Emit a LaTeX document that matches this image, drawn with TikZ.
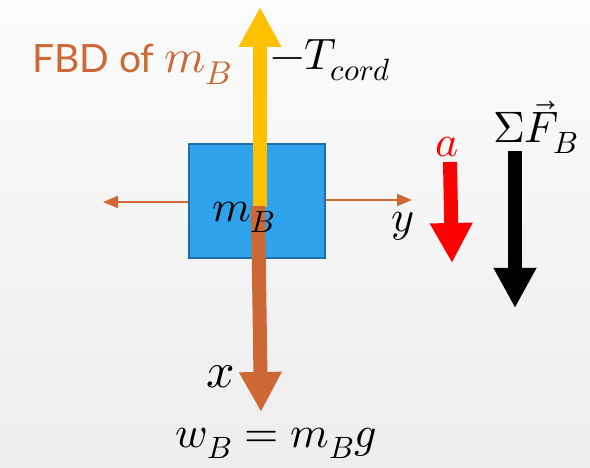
\documentclass[tikz,border=0pt]{standalone}
\usepackage{fontspec}
\usepackage{unicode-math}
\setmathfont{Latin Modern Math}
\newfontfamily\fbdfont{Lato}
\usetikzlibrary{arrows.meta}
\definecolor{fbdbrown}{RGB}{205,103,52}
\definecolor{boxblue}{RGB}{46,162,235}
\definecolor{boxedge}{RGB}{30,110,170}
\definecolor{tyellow}{RGB}{255,192,0}
\tikzset{
  bigarrow/.style={line width=14pt, -{Triangle[width=40pt,length=40pt]}},
  thinarrow/.style={line width=2pt, fbdbrown, -{Triangle[width=12pt,length=15pt]}},
  lbl/.style={inner sep=0pt, font=\fontsize{44}{50}\selectfont},
}
\begin{document}
\begin{tikzpicture}[x=1pt,y=1pt]
\shade[top color=gray!3, bottom color=gray!14] (0,0) rectangle (590,468);
\useasboundingbox (0,0) rectangle (590,468);
% block
\node[draw=boxedge, line width=2pt, fill=boxblue, minimum width=136pt, minimum height=114pt, inner sep=0pt] (box) at (257,267) {};
% axes
\coordinate (yl) at (103,266);
\coordinate (yr) at (412,268);
\draw[thinarrow] (box.west |- yl) -- (yl);
\draw[thinarrow] (box.east |- yr) -- (yr);
% tension
\coordinate (ts) at (260,261);
\coordinate (te) at (260,461);
\draw[bigarrow, tyellow] (ts) -- (te);
% weight
\coordinate (ws) at (258,262);
\coordinate (we) at (261,56);
\draw[bigarrow, fbdbrown] (ws) -- (we);
% acceleration
\coordinate (as) at (450,306);
\coordinate (ae) at (452,205);
\draw[bigarrow, red] (as) -- (ae);
% net force
\coordinate (fs) at (515,317);
\coordinate (fe) at (515,160);
\draw[bigarrow, black] (fs) -- (fe);
% text in block
\node[lbl, anchor=base west] (mb) at (212,246) {$m_B$};
% labels
\node[inner sep=0pt, anchor=base west, text=fbdbrown, font=\fbdfont\fontsize{39}{46}\selectfont] (title) at (32,395) {FBD of \fontsize{47}{54}\selectfont$m_B$};
\node[lbl, anchor=base west] (tl) at (270,398) {$-T_{cord}$};
\node[lbl, anchor=base] (ylbl) at (403,236) {$y$};
\node[lbl, anchor=base, text=red] (alabel) at (447,311) {$a$};
\node[lbl, anchor=base west] (flabel) at (493,325) {$\Sigma\vec{F}_B$};
\node[lbl, anchor=base, font=\fontsize{50}{56}\selectfont] (xlbl) at (221,80) {$x$};
\node[lbl, anchor=base] (wlabel) at (276,20) {$w_B = m_B g$};
\end{tikzpicture}
\end{document}
